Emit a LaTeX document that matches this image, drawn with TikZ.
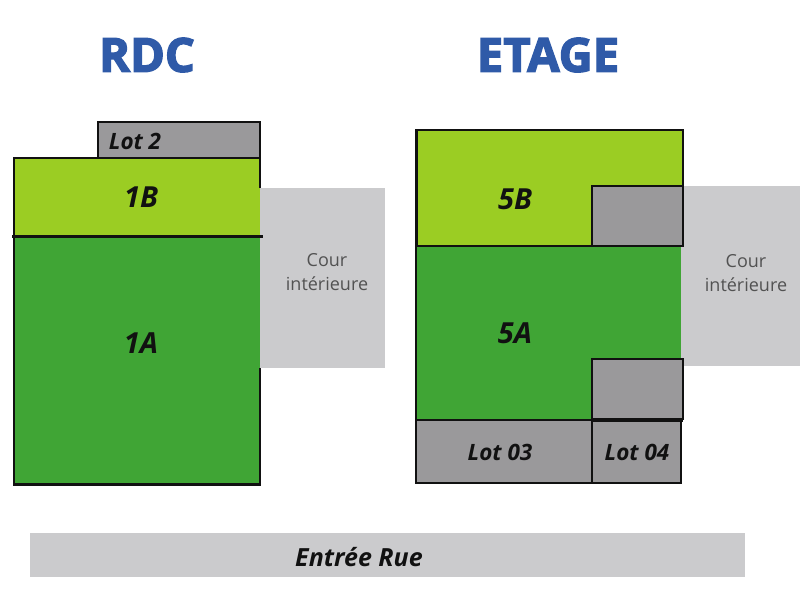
\documentclass[tikz,border=0pt]{standalone}
\usepackage{fontspec}
\setmainfont[BoldFeatures={FakeBold=1.5}]{Open Sans}
\newfontfamily\ttlfont[BoldFeatures={FakeBold=3}]{Open Sans}
\definecolor{dg}{HTML}{40A535}
\definecolor{lg}{HTML}{9BCD23}
\definecolor{gr}{HTML}{9A999B}
\definecolor{lgr}{HTML}{CBCBCD}
\definecolor{tb}{HTML}{2F5AA8}
\definecolor{ink}{HTML}{111111}
\tikzset{x=1pt,y=-1pt,
 edge/.style={draw=ink,line width=2pt},
 thick edge/.style={draw=ink,line width=3pt},
 thin edge/.style={draw=ink,line width=1.2pt},
 lab/.style={font=\fontsize{29}{32}\selectfont\bfseries\itshape,text=ink},
 lotl/.style={font=\fontsize{22.5}{25}\selectfont\bfseries\itshape,text=ink},
 street/.style={font=\fontsize{25}{28}\selectfont\bfseries\itshape,text=ink},
 ttl/.style={font=\ttlfont\fontsize{47}{50}\selectfont\bfseries,text=tb},
 cour/.style={font=\fontsize{18}{24.5}\selectfont,text=black!68,align=center}}
\begin{document}
\begin{tikzpicture}
\useasboundingbox (0,0) rectangle (800,600);
\fill[white] (0,0) rectangle (800,600);
\node[ttl] (t1) at (147,55) {RDC};
\node[ttl] (t2) at (548,55) {ETAGE};
% RDC
\fill[lgr] (260,188) rectangle (385,368);
\path[edge,fill=gr] (98,122) rectangle (260,158);
\fill[lg] (14,158) rectangle (260,236);
\fill[dg] (14,236) rectangle (260,484);
\draw[edge] (260,188) -- (260,158) -- (14,158) -- (14,484);
\draw[thick edge] (13,484) -- (261,484);
\draw[edge] (260,484) -- (260,368);
\draw[thick edge] (12,236) -- (263,236);
\node[lotl] (l2) at (135,141) {Lot 2};
\node[lab] (b1) at (141,197) {1B};
\node[lab] (a1) at (141,343) {1A};
\node[cour] (c1) at (327,272) {Cour\\intérieure};
% ETAGE
\fill[lgr] (681,186) rectangle (800,366);
\fill[lg] (416,130) rectangle (683,246);
\fill[dg] (416,246) rectangle (681,420);
\draw[thin edge] (416,130) -- (683,130) -- (683,186);
\draw[thick edge] (416,129) -- (416,246);
\path[edge,fill=gr] (592,186) rectangle (683,246);
\path[edge,fill=gr] (592,359) rectangle (683,419);
\path[edge,fill=gr] (416,420) rectangle (592,483);
\path[edge,fill=gr] (592,420) rectangle (681,483);
\draw[edge] (416,246) -- (592,246);
\draw[edge] (416,246) -- (416,420);
\draw[thick edge] (592,420) -- (683,420);
\node[lab] (b5) at (515,199) {5B};
\node[lab] (a5) at (515,333) {5A};
\node[lotl] (l3) at (500,452) {Lot 03};
\node[lotl] (l4) at (637,452) {Lot 04};
\node[cour] (c2) at (746,273) {Cour\\intérieure};
% street
\fill[lgr] (30,533) rectangle (745,577);
\node[street] (e) at (359,557) {Entrée Rue};
\end{tikzpicture}
\end{document}
